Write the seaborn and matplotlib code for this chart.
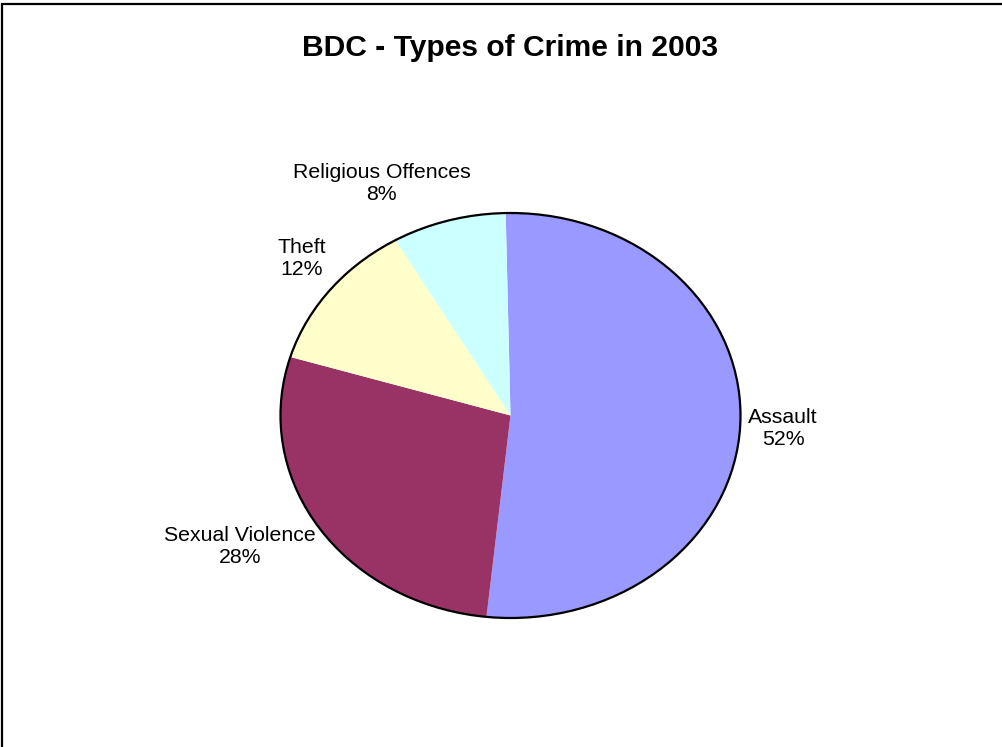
import matplotlib
matplotlib.use("Agg")
import matplotlib.pyplot as plt
from matplotlib.patches import Circle, Rectangle
import seaborn as sns

# Crime categories and their share of the total (percent)
categories = ["Assault", "Sexual Violence", "Theft", "Religious Offences"]
shares = [52, 28, 12, 8]
colors = ["#9999FF", "#993366", "#FFFFCC", "#CCFFFF"]

# Label anchor points in pie data units (pie radius = 1)
label_pos = [(1.185, -0.062), (-1.176, -0.649), (-0.907, 0.773), (-0.560, 1.148)]

sns.set_theme(style="white")
plt.rcParams["font.family"] = ["Liberation Sans", "DejaVu Sans"]

W, H = 1003, 747
fig = plt.figure(figsize=(W / 100, H / 100), dpi=100)
fig.patch.set_facecolor("white")

# Axes sized so the pie is drawn as a slightly flattened ellipse
cx, cy, rx, ry, lim = 510.5, 415.5, 230.0, 202.5, 1.3
ax = fig.add_axes([(cx - lim * rx) / W, (H - (cy + lim * ry)) / H,
                   2 * lim * rx / W, 2 * lim * ry / H])

wedges, _ = ax.pie(shares, colors=colors, startangle=91.2, counterclock=False,
                   wedgeprops=dict(linewidth=0, antialiased=True), frame=False)
ax.set_aspect("auto")
ax.set_xlim(-lim, lim)
ax.set_ylim(-lim, lim)
ax.axis("off")

# Outer outline only
ax.add_patch(Circle((0, 0), 1.0, fill=False, edgecolor="black", linewidth=1.6, zorder=5))

total = sum(shares)
for name, val, (lx, ly) in zip(categories, shares, label_pos):
    ax.text(lx, ly, f"{name}\n{round(100 * val / total)}%", ha="center", va="center",
            multialignment="center", fontsize=15.3, color="black", linespacing=1.2)

fig.text(510 / W, 1 - 48 / H, "BDC - Types of Crime in 2003", ha="center", va="center",
         fontsize=21.6, fontweight="bold", color="black")

# Chart area border (left and top edges visible)
fig.patches.append(Rectangle((2.5 / W, -0.1), 1.2, 1.1 - 3.5 / H, transform=fig.transFigure,
                             fill=False, edgecolor="black", linewidth=1.6))

fig.savefig("out.png", dpi=100, facecolor="white")
